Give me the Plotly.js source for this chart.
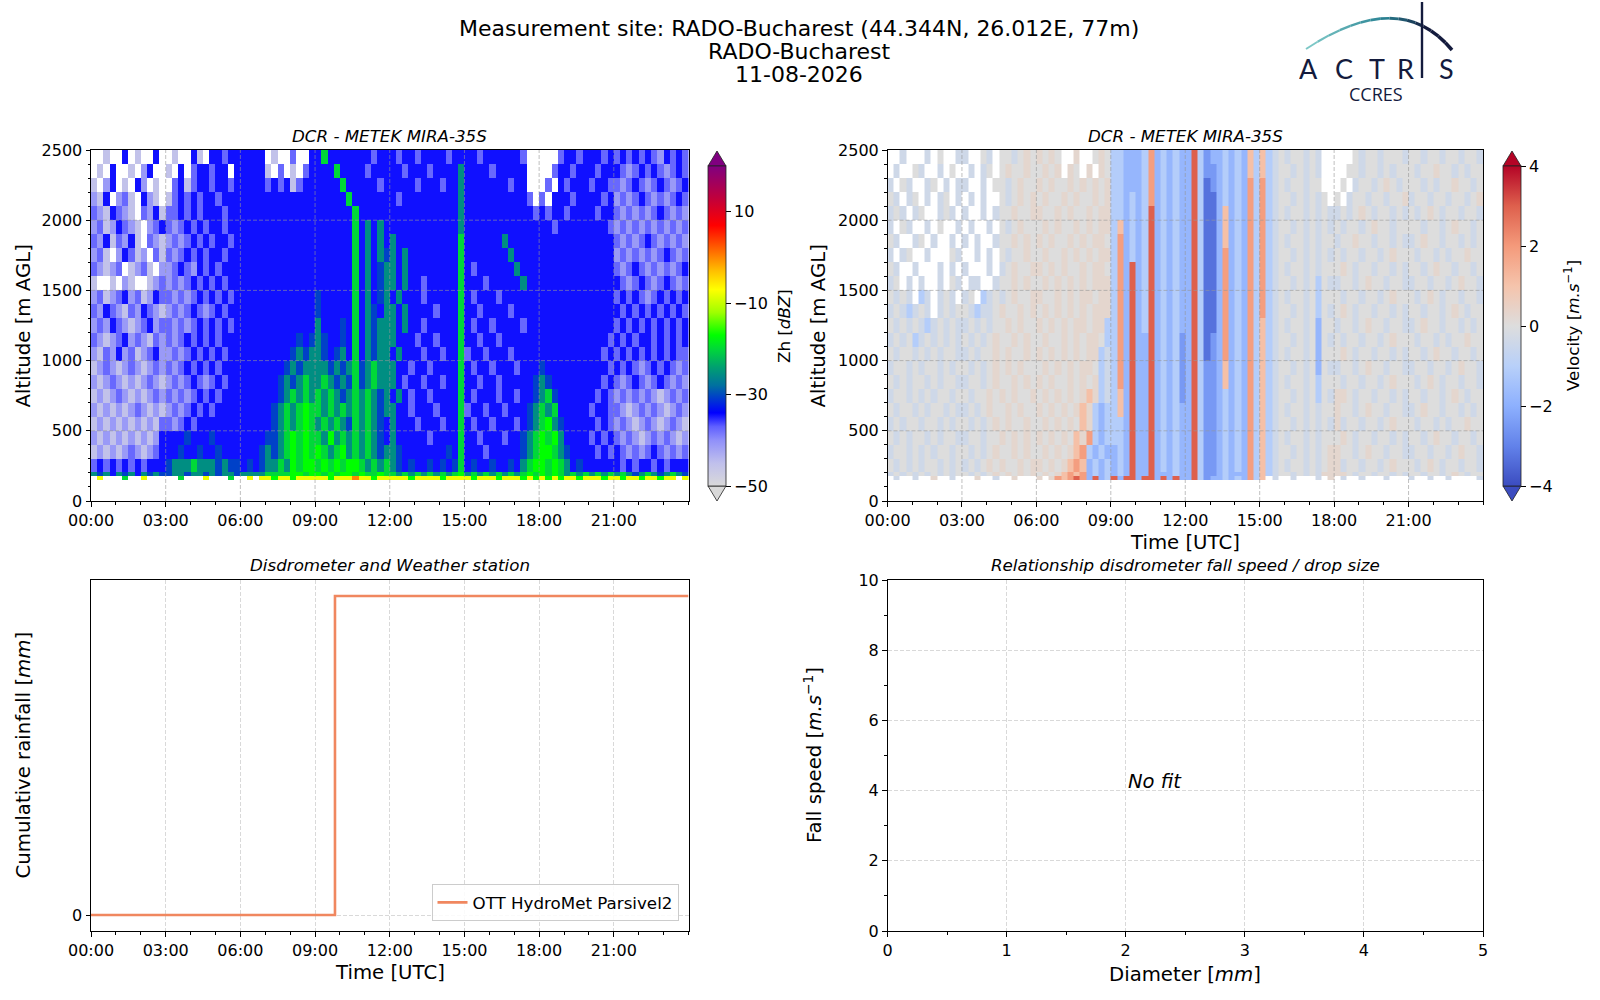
<!DOCTYPE html>
<html>
<head>
<meta charset="utf-8">
<script src="https://cdn.plot.ly/plotly-3.0.1.min.js"></script>
<style>
  body { margin: 0; background: #fff; }
  #chart { width: 1600px; height: 1000px; }
</style>
</head>
<body>
<div id="chart"></div>
<script>
// Daily quicklook: cloud radar Zh + Doppler velocity, disdrometer rain, fall-speed fit.
// Radar fields on a 15-min x ~100 m grid, one character
// per cell, split into 3-hour blocks (rows run top 2400-2500 m -> bottom 150-178 m).

const DAY = '2026-08-11';
const NEXT_DAY = '2026-08-12';
const FONT = 'DejaVu Sans, sans-serif';

const titleLines = ['Measurement site: RADO-Bucharest (44.344N, 26.012E, 77m)', 'RADO-Bucharest', '11-08-2026'];

const altitudeEdges = [150, 178, 206, 300, 400, 500, 600, 700, 800, 900, 1000, 1100, 1200, 1300,
  1400, 1500, 1600, 1700, 1800, 1900, 2000, 2100, 2200, 2300, 2400, 2500];
const altitudeGrid = [500, 1000, 1500, 2000];
const timeTickLabels = ['00:00', '03:00', '06:00', '09:00', '12:00', '15:00', '18:00', '21:00'];

// ---- reflectivity Zh, dBZ ('.' = no echo) ----------------------------------
const zhCodes  = ['.',  'w', 'l', 'm', 'b', 'd', 't', 'g', 'G', 'y', 'o'];
const zhValues = [null, -45.5, -41, -37.5, -34.5, -30.5, -25.5, -20, -17, -8, 0];

const zh00 = ['..w..b.w..b.', '.w.b..w.lb..', 'w.lb.w.bl.w.', 'lwb.lmw.blw.', 'mlwbmlw.mlbw',
  'lmwlbmlw.lmb', 'mlbwmlbw.mlw', 'lmw.lbmwl.mw', 'mlwlm.wlmw.l', 'w..w.lw..wlm', 'lmwlmblmwlbm',
  'mlbmlwmlbmlw', 'lmlbmlwlmblm', 'mlwlmblmlwml', 'lwmlblmwlmbl', 'wlmlwlmlwlml', 'lwlmlwlwlmlw',
  'wlwlmlwlwlml', 'lwlwlwlmlwlw', 'wlwlwlwlwlwm', 'lwlwlwlwlwlb', 'wlwlwlmlwlmb', 'mbmbmbmbmbbb',
  'tdtbtdtbtdtd', '.y...g..y...'];
const zh03 = ['.w..bw.bbmbb', 'w.b.mbbmbb.b', '.mbwmbbmbbmb', 'wmbmbmbbmbbb', 'mmbmbmbbbmbb',
  'mlmbmbmbbmbb', 'lmlmbmbmbbmb', 'mlmbmbmbbmbb', 'lmbmlbmbmbbb', 'lmlmbmbmbmbb', 'mlmlmbmbmbmb',
  'lmlmbmlmbmbb', 'mlmlmbmbmbmb', 'mlmbmbmbmbbb', 'lmlmbmbmbmbb', 'mlmbmbmbmbbb', 'lmlmbmlmbmbb',
  'mlmlmbmbmbbb', 'lmlmbmbmbbbb', 'mlmbmbbbbbbb', 'bbbdbbbdbbbb', 'bbdbbdbbdbbb', 'dtttgtttdtdd',
  'dttdttdtdttd', '..g...y...g.'];
const zh06 = ['bbbb.w..m..b', 'bbbbw.m.w.mb', 'bbbbmbmbwmbb', 'bbbbbbbbbbbb', 'bbbbbbbbbbbb',
  'bbbbbbbbbbbb', 'bbbbbbbbbbbb', 'bbbbbbbbbbbb', 'bbbbbbbbbbbb', 'bbbbbbbbbbbb', 'bbbbbbbbbbbb',
  'bbbbbbbbbbbb', 'bbbbbbbbbbbb', 'bbbbbbbbbdbd', 'bbbbbbbbdtdt', 'bbbbbbbdtdtt', 'bbbbbbdtdtgt',
  'bbbbbbdtgtgt', 'bbbbbdtgtgGg', 'bbbbbdtgtgGg', 'bbbbddtgGgGg', 'bbbdtdtgGgGg', 'bdbdttgtGgGG',
  'ttttggggGGgG', '.y.yyGyyGyyy'];
const zh09 = ['bgbbbbbbbmbb', 'bbbgbbbbmbbb', 'bbbbgbbbbbmb', 'bbbbbgbbbbbb', 'bbbbbbgbbbbb',
  'bbbbbbgbtbtb', 'bbbbbbgbtbtb', 'bbbbbbgbtbtd', 'bbbbbbgbtbdt', 'bbbbbbgbtbdt', 'dbbbbbgbtbdt',
  'dbbbbbgbtdbt', 'tbbbdbgbtdtt', 'tdbbdbgbtdtt', 'tdbdtbgbtdtt', 'ttdtdtgdtgtt', 'tgtdtdgdtgtt',
  'gtgtdtgtgtdt', 'gtgtgtgtgtdt', 'tgtgtdgtgtdb', 'gtGtgtgtgtdb', 'GgtgGtgtgtdt', 'gGgGgGGgtgtg',
  'GgGgGGgGggGg', 'yyGyyyoyyGyy'];
const zh12 = ['bmbbmbbbbmbb', 'bbmbbbmbbbbt', 'bbbbmbbbmbbt', 'bmbbbbbbbbbt', 'bbbbbbbbbbbt',
  'bbbbbbbbbbbt', 'tbbbbbbbbbbg', 'tbtbbbbbbbbg', 'tbtbbbbbbbbg', 'tbtbbmbbbbbg', 'btbbbmbbbbbg',
  'tbtbbbbmbbbg', 'tbtbbmbbbbbg', 'tbbbmbbmbbbg', 'btbbbmbbmbbg', 'tbbmbbmbbbbg', 'tbmbbmbbmbbg',
  'btbmbbmbbbbg', 'tbbmbbbmbbbg', 'tbbbmbbbmbbg', 'tbbbbbmbbbbg', 'tdbbbbbbbdbg', 'tdbdbbdbdbdg',
  'gtgtgtgtgtgG', 'yyyGyyyyGyyy'];
const zh15 = ['bbmbbbbbbm..', 'bbbbmbbbbb..', 'bbbbbbbmbb..', 'bbbbbbbbbbm.', 'bbbbbbbbbbbm',
  'bbbbbbbbbbbb', 'bbbbbbtbbbbb', 'bbbbbbbtbbbb', 'bmbbbbbbtbbb', 'bbbmbbbbbtbb', 'bmbbbmbbbbbb',
  'bbmbbbbmbbbb', 'bmbbmbbbbmbb', 'bbmbbmbbbbbb', 'mbbmbbbmbbbb', 'bmbbmbbbmbbb', 'bbmbbmbbbbbd',
  'bmbbbmbbmbbd', 'mbbmbbmbbbdt', 'bmbbmbbbmbdt', 'bbmbbbmbbdtg', 'bbbmbbbbbdtg', 'bdbbdbbdbtgG',
  'tgtgtgtgtgGg', 'yGyyyGyyyGyG'];
const zh18 = ['...mbbmbbbmb', '..mbbmbbbmbb', '.m.bmbbbmbbm', 'm.bbbmbbbbmb', 'bmbbmbbbbmbb',
  'bbmbbbbbbbbm', 'bbbbbbbbbbbb', 'bbbbbbbbbbbb', 'bbbbbbbbbbbb', 'bbbbbbbbbbbb', 'bbbbbbbbbbbb',
  'bbbbbbbbbbbb', 'bbbbbbbbbbbb', 'bbbbbbbbbbbm', 'bbbbbbbbbbmb', 'dbbbbbbbbbbm', 'tdbbbbbbbbmb',
  'tgdbbbbbbmbm', 'gtgbbbbbmbbm', 'gGtdbbbbbmbm', 'GgGtbbbbmbmb', 'GGgtdbbbbmbm', 'GgGgtbdbbbbb',
  'GgGgtgtgtgtg', 'yGyGyyGyyyGy'];
const zh21 = ['mbmbmbmlbmbm', 'bmlmbmbmlmbm', 'mlmbmlmbmlmb', 'lmlmbmlmlmbm', 'mlmlmlmbmlml',
  'lmlmlmlmlmlm', 'mlmlmbmlmlml', 'lmlmlmlmbmlm', 'mlmbmlmlmlmb', 'bmlmbmlmbmlm', 'mbmbmlmbmbmb',
  'bmbmbmbmbmbm', 'mbmbmbmbmbmb', 'bmbmbbmbmbmb', 'mbmbmbmbmbmm', 'bmbmlmbmbmlm', 'mlmbmlmbmlml',
  'lmlmlmlwlmlm', 'mlwlmlmlwlml', 'lmlwlmlwlmlw', 'mlmlwlmlmlwl', 'bmlmlmbmlmlm', 'bmbmbbmbmbbb',
  'tgtdtgtdtgtd', 'yGyyGyyGyy.y'];

// ---- Doppler velocity, m/s ('.' = no echo) ---------------------------------
const velCodes  = ['.',  '0', 'p', 'n', 'q', 'u', 'P', 'N', 'R', 'B', 'D'];
const velValues = [null, 0, 0.3, -0.4, 1.1, -1.1, 1.9, -1.8, 3.0, -2.5, -3.3];

const vel00 = ['..n...n.0..n', '.n..0n..n.0.', 'n.0n..n0.n.n', '0n.n0.n.n0.n', 'n0n.n0..n0n.',
  'n.0n..n.0..n', '0n..n0.n..n.', 'n.n0..n...0n', '0n..n...n.n.', 'n0.n.n..n.0n', '0n0n.un.n0n.',
  'n0nun0n.n0n0', '0n0n0nun0n0n', 'n0n0un0n0n0n', '0n00n0n0n00n', 'n00n0n00n0n0', '0n0n00n0n00n',
  'n00n0n0n00n0', '0n00n0n00n0n', 'n0n00n00n0n0', '0n0n00n0n00n', 'n00n0n0n00n0', '0n0n0n00n0n0',
  'n0n0n0n0n0n0', '.n..n..p..n.'];
const vel03 = ['n..0n.00n0p0', '.n.n0.0p00p0', 'n..n.00n0p00', '.n.n..0n0p0p', 'n..n.n00p00p',
  '.n..n.0n0p00', 'n.n..n00p0p0', '..n.n.0n00p0', 'n...n.n0p00p', '.nn..n00p0p0', 'n0.un0n0p00p',
  '0nunn0p00p0p', 'n0n0n00p0p00', '0n0n0p00p0p0', 'n0n00p0p00p0', '0n0n0p0p0p00', 'n00n0p00p0p0',
  '0n00p0p0p00p', 'n0n0p00p0p00', '0n0n0p0p00p0', 'n00n00p0p0p0', '0n0n0p00p0p0', 'n0n0p0p00p0p',
  '0n0n0p0p0p0p', '..p..n..p...'];
const vel06 = ['p0p0..p..0p0', '0p0p.p0.p.p0', 'p0p00p0p0p0p', '0p00p0p00p0p', 'p00p0p00p0pp',
  '0p0p00p0p0pp', 'p0p00p0p0pp0', '0p00p0p0p0pp', 'p0p0p00p0pp0', '0p0p0p0p0ppp', 'p00p0p0pp0pp',
  '0p0p0p0p0ppp', 'p0p0p0pp0ppu', '0p00p0p0pp0u', 'p0p0p0p0ppun', '0p0p0p0pp0un', 'p0p00p0p0pun',
  '0p0p0p0pqpun', 'p0p0p0pqpuNu', '0p0p0p0qpuNu', 'p0p0p0qpPuNu', '0p0p0pqPuNuN', 'p0p0pqPqNuNu',
  '0p0pqPqPNuNu', 'p.pPqPRPNRNu'];
const vel09 = ['uuNNNuPNuNuN', 'uuNNNuPNuNuN', 'uuNNNuPNuNuN', 'uuNuNuPNuNuN', 'uuNuNuRNuNuN',
  'uqNuNuRNuNuN', 'uPNuNuRNuNuN', 'uPNuNuRNuNuN', 'uPNRNuRNuNuN', 'uPNRNuRNuNuN', 'uPNRNuRNuNuN',
  'uPNRNuRNuNuN', 'uPNRNuRNuNuN', 'uPNRNNRNuNuB', 'uPNRNNRNuNuB', 'uPNRNNRNuNuB', 'uPNRNNRNuNuB',
  'uqNRNNRNuNuB', 'uqNRNNRNuNuN', 'uuNRNNRNuNuN', 'uuNRNNRNuNuN', 'NuNRNNRNuNuN', 'NuNRNNRNuNuN',
  'NuNRNNRNNNuN', 'RNRRNRRNRNRN'];
const vel12 = ['NRuBNNuNuNqu', 'NRuBBNuNuNqu', 'NRuDBNuNuNPu', 'NRuDDNuNuNPu', 'NRuDDNqNuNPu',
  'NRuDDNqNuNPu', 'NRuDDNqNuNPu', 'NRuDDNPNuNPu', 'NRuDDNPNuNPu', 'NRuDDNPNuNPu', 'NRuDDNPNuNPu',
  'NRuDDNPNuNPu', 'NRuDDNPNuNPu', 'NRuDBNPNuNPu', 'NRuDBNPNuNPu', 'NRuBBNqNuNPu', 'NRuBBNqNuNPu',
  'NRuBBNuNuNPu', 'NRuBBNuNuNPu', 'NRuBBNuNuNPu', 'NRuBBNuNuNPu', 'NRuBBNuNuNPu', 'NRuBBNuNuNPu',
  'NRuBBNuNNNPu', 'NRuBNNuNuNPu'];
const vel15 = ['qun0n00n0n..', 'qun00n0n0n..', 'Pun0n00n00..', 'Pun00n0n0n0.', 'Pun0n00n0n0n',
  'Pun00n0n0n0n', 'Pun0n00n0n00', 'Pun00n0n0n0n', 'Pun0n00n0n00', 'Pun00n0n0u0n', 'Pun0n00n0u00',
  'Pun00n0n0u0n', 'qun0n00n0N00', 'qun00n0n0N0n', 'qun0n00n0N00', 'qun00n0n0N0n', 'qun0n00n0u00',
  'qun00n0n0u0n', 'qun0n00n0n00', 'qun00n0n0n0n', 'qun0n00n0n00', 'qun00n0n0n0p', 'qun0n00n0n0p',
  'qun00n0n0npp', 'q.n..n...n.p'];
const vel18 = ['...0n00n000n', '..00n00n0n00', '.0.n00n0p0n0', '0.n00n00n00p', 'n0n0p0n00n0n',
  '0n00n0p00n00', 'n00p00n00n0n', '0n00n00n0p00', '0p0n00n00n0n', 'n00n0p00n00n', '0n00n00n0p00',
  '0p0n00n00n0n', 'n00n0p00n00n', '0n00n00n0p00', '0p0n00n00n0n', 'n00n0p00n00n', '0n00n00n0p00',
  'pp0n00n00n0n', 'p00n0p00n00n', 'pn00n00n0p00', '0p0n00n00n0n', 'p00n0p00n00n', 'pn00n00n0p00',
  'pp0n00n00n0n', '.n..n...n...'];
const vel21 = ['00n00n00n00n', '0n00p00n0n00', '00n0n00p00n0', 'n00n00n00n0p', '0n0p0n00n00n',
  '00n00n0p00n0', 'n0p00n00n0n0', '0n00n0n00p00', '00n0p00n00n0', 'n00n00n0p00n', '0n0p0n00n00n',
  '00n00n0p0n00', 'n0p00n00n0n0', '0n00n0n00p00', '00n0p00n00n0', 'n00n00n0p00n', '0n0p0n00n00n',
  '00n00n0p0n00', 'n0p00n00n0n0', '0n00n0n00p00', '00n0p00n00n0', 'n00n00n0p00n', '0n0p0n00n00n',
  '00n00n0p0n00', 'n..n..n....n'];

// ---- disdrometer cumulative rain ---------------------------------------------
const rainTimes = ['00:00', '09:48', '24:00'];
const rainValues = [0, 0.2, 0.2];
const rainName = 'OTT HydroMet Parsivel2';

const zhScale = [
  [0, '#d9d9d9'], [0.0714, '#c0c0ec'], [0.1429, '#9090fa'], [0.1857, '#6060ff'],
  [0.2286, '#0000ff'], [0.2714, '#0038d0'], [0.3143, '#0070a0'], [0.3714, '#00a070'],
  [0.4286, '#00d838'], [0.4714, '#00ff00'], [0.5429, '#a0ff00'], [0.6143, '#ffff00'],
  [0.6714, '#ffc000'], [0.7429, '#ff6000'], [0.8143, '#ff0000'], [0.9, '#c0003c'], [1, '#800080']
];
const velScale = [
  [0, '#3b4cc0'], [0.125, '#6282ea'], [0.25, '#8db0fe'], [0.375, '#b8d0f9'], [0.5, '#dddddd'],
  [0.625, '#f5c4ac'], [0.75, '#f49a7b'], [0.875, '#de604d'], [1, '#b40426']
];

// ---- helpers -------------------------------------------------------------
const M = { l: 91, r: 117, t: 150, b: 69 };
const PW = 1600 - M.l - M.r, PH = 1000 - M.t - M.b;
const pxX = px => (px - M.l) / PW;
const pxY = py => (1000 - M.b - py) / PH;

function stamp(hhmm) {
  return hhmm === '24:00' ? NEXT_DAY + ' 00:00' : DAY + ' ' + hhmm;
}
const pad = n => String(n).padStart(2, '0');
const timeEdges = [];
for (let m = 0; m <= 1440; m += 15) timeEdges.push(stamp(pad(Math.floor(m / 60)) + ':' + pad(m % 60)));

function decode(blocks, codes, values) {
  const rows = blocks[0].map((_, i) => blocks.map(b => b[i]).join(''));
  return rows.reverse().map(s => {
    if (s.length !== 96) console.warn('row length', s.length, s);
    return s.split('').map(ch => values[codes.indexOf(ch)]);
  });
}

function cb(px, vals, texts) {
  return {
    x: pxX(px), xanchor: 'left', y: pxY(326), yanchor: 'middle',
    len: 320, lenmode: 'pixels', thickness: 18, thicknessmode: 'pixels',
    xpad: 0, ypad: 0, outlinewidth: 0.8, outlinecolor: '#222',
    tickvals: vals, ticktext: texts, ticks: 'outside', ticklen: 5, tickwidth: 1, tickcolor: '#000',
    tickfont: { family: FONT, size: 16, color: '#000' }
  };
}

// ---- traces --------------------------------------------------------------
const traces = [
  {
    type: 'heatmap', x: timeEdges, y: altitudeEdges,
    z: decode([zh00, zh03, zh06, zh09, zh12, zh15, zh18, zh21], zhCodes, zhValues),
    xaxis: 'x', yaxis: 'y', zmin: -50, zmax: 20, colorscale: zhScale, zsmooth: false,
    hoverinfo: 'skip', showlegend: false,
    colorbar: cb(708, [-50, -30, -10, 10], ['−50', '−30', '−10', '10'])
  },
  {
    type: 'heatmap', x: timeEdges, y: altitudeEdges,
    z: decode([vel00, vel03, vel06, vel09, vel12, vel15, vel18, vel21], velCodes, velValues),
    xaxis: 'x2', yaxis: 'y2', zmin: -4, zmax: 4, colorscale: velScale, zsmooth: false,
    hoverinfo: 'skip', showlegend: false,
    colorbar: cb(1503, [-4, -2, 0, 2, 4], ['−4', '−2', '0', '2', '4'])
  },
  {
    type: 'scatter', mode: 'lines', name: rainName,
    x: rainTimes.map(stamp), y: rainValues, xaxis: 'x3', yaxis: 'y3',
    line: { color: '#f0875f', width: 2.6, shape: 'hv' }, showlegend: true
  },
  { type: 'scatter', mode: 'markers', x: [], y: [], xaxis: 'x4', yaxis: 'y4', showlegend: false }
];

// ---- axes ----------------------------------------------------------------
const axisBase = {
  showline: true, mirror: true, linecolor: '#000', linewidth: 1,
  ticks: 'outside', ticklen: 4.5, tickwidth: 1, tickcolor: '#000',
  tickfont: { family: FONT, size: 16, color: '#000' },
  zeroline: false, showgrid: false, fixedrange: true
};
const minorTicks = dt => ({ dtick: dt, ticks: 'outside', ticklen: 2.5, tickcolor: '#000', showgrid: false });
const gridOn = { showgrid: true, gridcolor: '#d9d9d9', gridwidth: 1, griddash: '4px,2px' };

const timeAxis = (domain, anchor, extra) => Object.assign({}, axisBase, {
  domain, anchor, type: 'date', range: [stamp('00:00'), stamp('24:00')],
  tickmode: 'array', tickvals: timeTickLabels.map(stamp), ticktext: timeTickLabels,
  minor: Object.assign(minorTicks(3600 * 1000), { tick0: stamp('00:00') })
}, extra || {});
const altAxis = (domain, anchor) => Object.assign({}, axisBase, {
  domain, anchor, range: [0, 2500], tick0: 0, dtick: 500, minor: minorTicks(100)
});

const colL = [0, pxX(688.5)], colR = [pxX(887.5), 1];
const rowT = [pxY(501), 1], rowB = [0, pxY(580)];

// dashed grid drawn over the radar images
const gridLine = { color: 'rgba(150,150,150,0.6)', width: 1, dash: '4px,2px' };
const shapes = [];
['', '2'].forEach(s => {
  timeTickLabels.slice(1).forEach(t => shapes.push({
    type: 'line', xref: 'x' + s, yref: 'y' + s + ' domain', x0: stamp(t), x1: stamp(t), y0: 0, y1: 1,
    line: gridLine, layer: 'above'
  }));
  altitudeGrid.forEach(a => shapes.push({
    type: 'line', xref: 'x' + s + ' domain', yref: 'y' + s, x0: 0, x1: 1, y0: a, y1: a,
    line: gridLine, layer: 'above'
  }));
});

// colour-bar extension triangles
function tri(px, tipPy, basePy, color) {
  const x0 = pxX(px), x1 = pxX(px + 18), xm = pxX(px + 9);
  return {
    type: 'path', xref: 'paper', yref: 'paper', layer: 'above',
    path: `M${x0},${pxY(basePy)} L${x1},${pxY(basePy)} L${xm},${pxY(tipPy)} Z`,
    fillcolor: color, line: { color: '#222', width: 0.8 }
  };
}
shapes.push(tri(708, 151, 166, '#800080'), tri(708, 501, 486, '#d9d9d9'));
shapes.push(tri(1503, 151, 166, '#b40426'), tri(1503, 501, 486, '#3b4cc0'));

// ACTRIS logo: arc with a teal-to-navy fade, and the mast that doubles as the I
function mix(a, b, f) {
  const h = c => [1, 3, 5].map(i => parseInt(c.slice(i, i + 2), 16));
  const A = h(a), B = h(b);
  return 'rgb(' + A.map((v, i) => Math.round(v + (B[i] - v) * f)).join(',') + ')';
}
const arc = { p0: [1306, 49], c: [1400, -13], p2: [1452, 50] };
const arcPt = t => [0, 1].map(k => (1 - t) * (1 - t) * arc.p0[k] + 2 * (1 - t) * t * arc.c[k] + t * t * arc.p2[k]);
const NSEG = 16;
for (let i = 0; i < NSEG; i++) {
  const a = arcPt(i / NSEG), b = arcPt((i + 1) / NSEG);
  const f = i / (NSEG - 1);
  const col = f < 0.45 ? mix('#7cc7c6', '#2a8494', f / 0.45) : mix('#2a8494', '#141b3d', Math.min(1, (f - 0.45) / 0.35));
  shapes.push({
    type: 'line', xref: 'paper', yref: 'paper', x0: pxX(a[0]), y0: pxY(a[1]), x1: pxX(b[0]), y1: pxY(b[1]),
    line: { color: col, width: 2 + 1.6 * f }, layer: 'above'
  });
}
shapes.push({
  type: 'line', xref: 'paper', yref: 'paper', x0: pxX(1422), x1: pxX(1422), y0: pxY(2), y1: pxY(78),
  line: { color: '#141b3d', width: 2.4 }, layer: 'above'
});

// ---- text ----------------------------------------------------------------
function ann(text, px, py, size, extra) {
  return Object.assign({
    text, xref: 'paper', yref: 'paper', x: pxX(px), y: pxY(py), showarrow: false,
    xanchor: 'center', yanchor: 'middle', font: { family: FONT, size, color: '#000' }
  }, extra || {});
}
const annotations = [
  ann(titleLines[0], 799, 29, 22), ann(titleLines[1], 799, 51.5, 22), ann(titleLines[2], 799, 75, 22),
  ann('<i>DCR - METEK MIRA-35S</i>', 389.75, 136, 16.7),
  ann('<i>DCR - METEK MIRA-35S</i>', 1185.25, 136, 16.7),
  ann('<i>Disdrometer and Weather station</i>', 389.75, 565, 16.7),
  ann('<i>Relationship disdrometer fall speed / drop size</i>', 1185.25, 565, 16.7),
  ann('Altitude [m AGL]', 22.5, 326, 19.7, { textangle: -90 }),
  ann('Altitude [m AGL]', 817.5, 326, 19.7, { textangle: -90 }),
  ann('Zh [<i>dBZ</i>]', 784, 326, 16.7, { textangle: -90 }),
  ann('Velocity [<i>m.s</i><sup>−1</sup>]', 1572, 326, 16.7, { textangle: -90 }),
  ann('Time [UTC]', 1185.25, 542, 19.7),
  ann('Cumulative rainfall [<i>mm</i>]', 22.5, 755, 19.7, { textangle: -90 }),
  ann('Time [UTC]', 389.75, 972.5, 19.7),
  ann('Fall speed [<i>m.s</i><sup>−1</sup>]', 813, 755, 19.7, { textangle: -90 }),
  ann('Diameter [<i>mm</i>]', 1185.25, 974.5, 19.7),
  {
    text: '<i>No fit</i>', xref: 'x4', yref: 'y4', x: 2, y: 4, xanchor: 'left', yanchor: 'bottom',
    yshift: -4, showarrow: false, font: { family: FONT, size: 19.5, color: '#000' }
  }
];
const logoFont = { family: 'Lato, Open Sans, sans-serif', size: 27, color: '#141b3d' };
[['A', 1308], ['C', 1344], ['T', 1377], ['R', 1405], ['S', 1446]].forEach(([ch, px]) =>
  annotations.push(ann(ch, px, 68, 27, { font: logoFont, height: 26 })));
annotations.push(ann('CCRES', 1376, 93, 18,
  { font: { family: 'Open Sans, sans-serif', size: 18, color: '#141b3d' }, height: 19 }));

// ---- layout --------------------------------------------------------------
const layout = {
  width: 1600, height: 1000, margin: M,
  paper_bgcolor: '#fff', plot_bgcolor: '#fff',
  font: { family: FONT, size: 16, color: '#000' },
  xaxis: timeAxis(colL, 'y'),
  yaxis: altAxis(rowT, 'x'),
  xaxis2: timeAxis(colR, 'y2'),
  yaxis2: altAxis(rowT, 'x2'),
  xaxis3: timeAxis(colL, 'y3', gridOn),
  yaxis3: Object.assign({}, axisBase, gridOn, {
    domain: rowB, anchor: 'x3', range: [-0.01, 0.21], tickvals: [0], ticktext: ['0']
  }),
  xaxis4: Object.assign({}, axisBase, gridOn, {
    domain: colR, anchor: 'y4', range: [0, 5], tick0: 0, dtick: 1, minor: minorTicks(0.5)
  }),
  yaxis4: Object.assign({}, axisBase, gridOn, {
    domain: rowB, anchor: 'x4', range: [0, 10], tick0: 0, dtick: 2, minor: minorTicks(1)
  }),
  showlegend: true,
  legend: {
    x: pxX(678.5), y: pxY(921), xanchor: 'right', yanchor: 'bottom',
    bgcolor: 'rgba(255,255,255,0.85)', bordercolor: '#cccccc', borderwidth: 1,
    font: { family: FONT, size: 16.7, color: '#000' }
  },
  shapes, annotations
};

Plotly.newPlot('chart', traces, layout, { displayModeBar: false, responsive: false });
</script>
</body>
</html>
